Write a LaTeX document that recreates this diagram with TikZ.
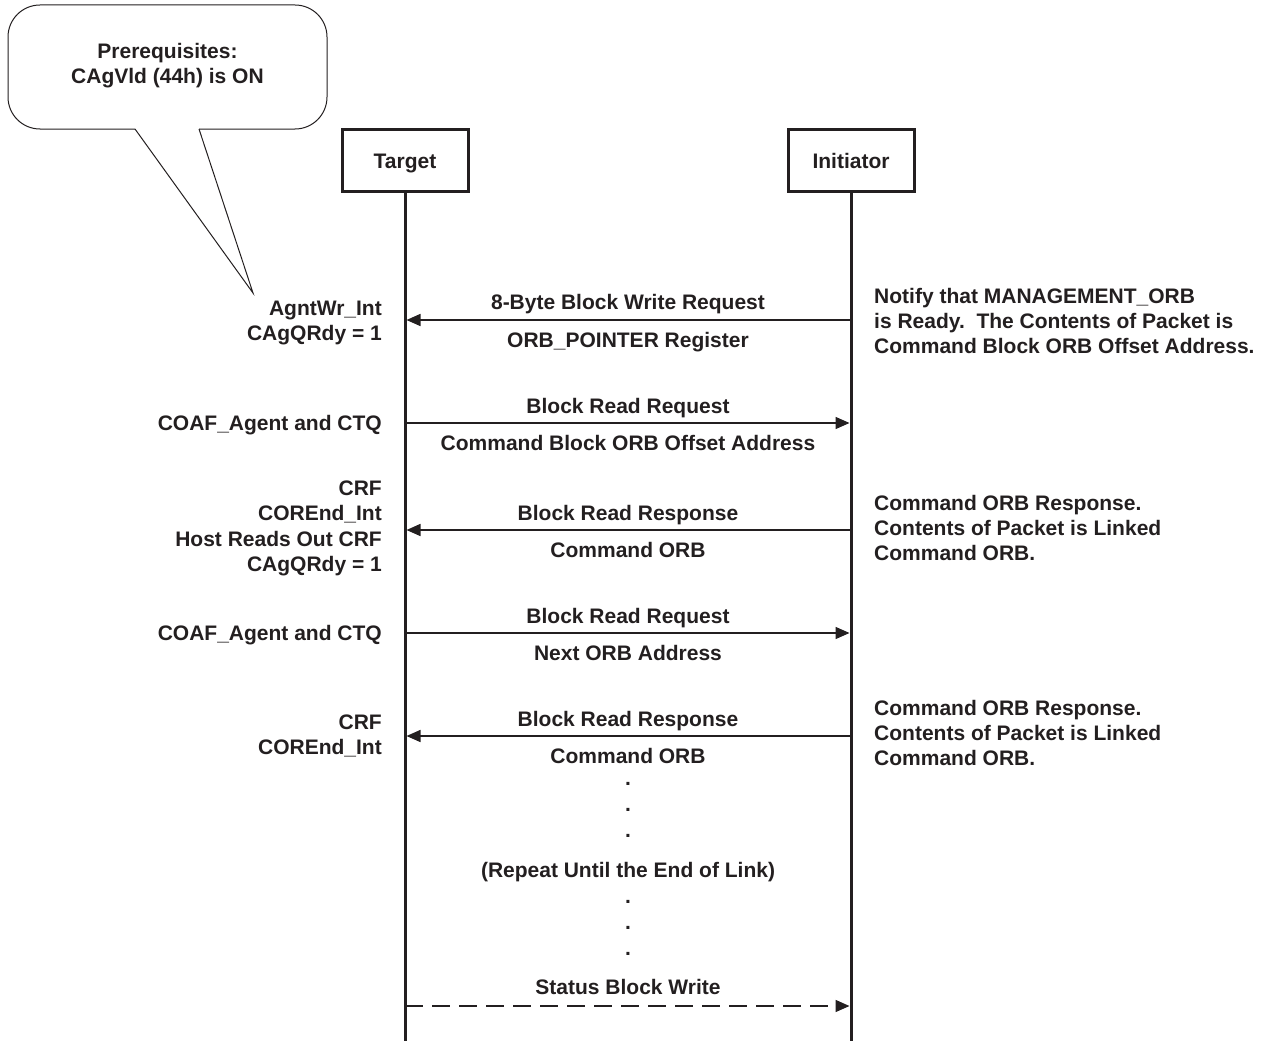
\documentclass[tikz,border=0pt]{standalone}
\usepackage{fontspec}
\setmainfont{Liberation Sans}
\usetikzlibrary{arrows.meta}
\definecolor{ink}{RGB}{35,31,32}
\begin{document}
\begin{tikzpicture}[x=1pt,y=-1pt,
  txt/.style={font=\fontsize{21}{25.3}\selectfont\bfseries, inner sep=0pt, text=ink},
  lifebox/.style={txt, draw=ink, line width=3pt, minimum width=126pt, minimum height=62pt, text height=15pt, text depth=0pt},
  lifeline/.style={draw=ink, line width=3pt},
  msg/.style={draw=ink, line width=1.5pt, shorten >=1.5pt, -{Triangle[length=14pt,width=12pt]}},
  msgdash/.style={msg, dash pattern=on 18pt off 9pt},
  lbl/.style={txt, anchor=base},
  leftnote/.style={txt, anchor=base east, align=right},
  rightnote/.style={txt, anchor=base west, align=left},
]
\useasboundingbox (0,0) rectangle (1264,1041);

% callout
\draw[ink, line width=1pt, rounded corners=32pt] (135,129) -- (8,129) -- (8,5) -- (327,5) -- (327,129) -- (199,129);
\coordinate (ptip) at (253,293);
\draw[ink, line width=1pt] (135,129) -- (ptip) -- (199,129);
\node[txt, align=center, anchor=base] (pre) at (167.5,84) {Prerequisites:\\CAgVld (44h) is ON};

% lifelines
\node[lifebox] (T) at (405,160.5) {Target};
\node[lifebox] (I) at (851,160.5) {Initiator};
\coordinate (Tend) at (405,1041);
\coordinate (Iend) at (851,1041);
\draw[lifeline] (T.south) -- (Tend);
\draw[lifeline] (I.south) -- (Iend);

% message coordinates
\foreach \n/\y in {1/320,2/423,3/530,4/633,5/736,6/1006}{
  \coordinate (t\n) at (405,\y);
  \coordinate (i\n) at (851,\y);
}

% 1
\draw[msg] (i1) -- (t1);
\node[lbl] (m1a) at (628,309) {8-Byte Block Write Request};
\node[lbl] (m1b) at (628,347.5) {ORB\_POINTER Register};
\node[leftnote] (l1) at (382,340.5) {AgntWr\_Int\\CAgQRdy = 1};
\node[rightnote] (r1) at (874,353.6) {Notify that MANAGEMENT\_ORB\\is Ready.\ \ The Contents of Packet is\\Command Block ORB Offset Address.};

% 2
\draw[msg] (t2) -- (i2);
\node[lbl] (m2a) at (628,413) {Block Read Request};
\node[lbl] (m2b) at (628,450.5) {Command Block ORB Offset Address};
\node[leftnote] (l2) at (382,430) {COAF\_Agent and CTQ};

% 3
\draw[msg] (i3) -- (t3);
\node[lbl] (m3a) at (628,520) {Block Read Response};
\node[lbl] (m3b) at (628,557.5) {Command ORB};
\node[leftnote] (l3) at (382,571.4) {CRF\\COREnd\_Int\\Host Reads Out CRF\\CAgQRdy = 1};
\node[rightnote] (r3) at (874,560.6) {Command ORB Response.\\Contents of Packet is Linked\\Command ORB.};

% 4
\draw[msg] (t4) -- (i4);
\node[lbl] (m4a) at (628,623) {Block Read Request};
\node[lbl] (m4b) at (628,660.5) {Next ORB Address};
\node[leftnote] (l4) at (382,640) {COAF\_Agent and CTQ};

% 5
\draw[msg] (i5) -- (t5);
\node[lbl] (m5a) at (628,726) {Block Read Response};
\node[lbl] (m5b) at (628,763.5) {Command ORB};
\node[leftnote] (l5) at (382,754.3) {CRF\\COREnd\_Int};
\node[rightnote] (r5) at (874,765.6) {Command ORB Response.\\Contents of Packet is Linked\\Command ORB.};

% repeat
\foreach \k/\y in {1/785,2/811,3/837,4/903,5/929,6/955}{
  \node[lbl] (dot\k) at (628,\y) {.};
}
\node[lbl] (rep) at (628,877) {(Repeat Until the End of Link)};

% 6
\draw[msgdash] (t6) -- (i6);
\node[lbl] (m6a) at (628,994) {Status Block Write};
\end{tikzpicture}
\end{document}
